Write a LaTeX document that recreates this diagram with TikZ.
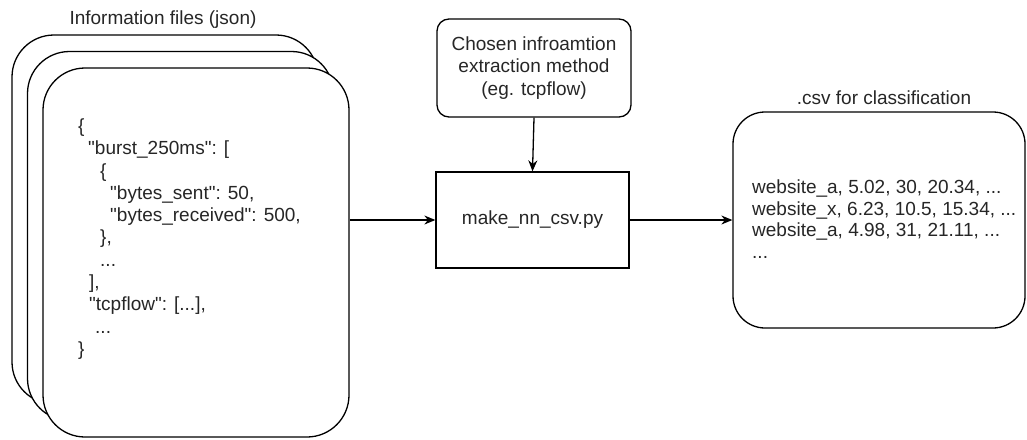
\documentclass[tikz,border=0pt]{standalone}
\usepackage{fontspec}
\setmainfont{Liberation Sans}[Ligatures=TeXOff]
\usetikzlibrary{arrows.meta}
\newcommand{\dq}{\symbol{34}}
\begin{document}
\begin{tikzpicture}[x=1pt,y=-1pt,
  every node/.style={font=\fontsize{19}{22.5}\selectfont, text=black!85},
  filebox/.style={draw, line width=1.3pt, fill=white, rounded corners=42pt, minimum width=306pt, minimum height=369pt, inner sep=0pt},
  procbox/.style={draw, line width=1.3pt, minimum width=193pt, minimum height=96pt, inner sep=0pt},
  methbox/.style={draw, line width=1.3pt, rounded corners=12pt, minimum width=194pt, minimum height=98pt, inner sep=0pt, align=center},
  csvbox/.style={draw, line width=1.3pt, rounded corners=32pt, minimum width=292pt, minimum height=216pt, inner sep=0pt},
  conn/.style={draw, line width=1.3pt, -{Stealth[length=11pt,width=9pt]}},
  lbl/.style={inner sep=0pt}
]
\useasboundingbox (0,0) rectangle (1027,439);

% stacked information files
\node[filebox] (f1) at (165,219.5) {};
\node[filebox] (f2) at (180.5,236) {};
\node[filebox] (f3) at (196,252.5) {};
\node[lbl] (flabel) at (163,20) {Information files (json)};
\node[lbl, anchor=north west, align=left, font=\fontsize{19}{22.3}\selectfont] (json) at (78,118.5)
{\{\\
\hspace*{10pt}\dq burst\_250ms\dq: [\\
\hspace*{22pt}\{\\
\hspace*{32pt}\dq bytes\_sent\dq: 50,\\
\hspace*{32pt}\dq bytes\_received\dq: 500,\\
\hspace*{22pt}\},\\
\hspace*{22pt}...\\
\hspace*{11pt}],\\
\hspace*{11pt}\dq tcpflow\dq: [...],\\
\hspace*{17pt}...\\
\}};

% method box
\node[methbox] (meth) at (534,68) {Chosen infroamtion\\extraction method\\(eg. tcpflow)};

% processing script
\node[procbox] (mk) at (532.5,220) {make\_nn\_csv.py};

% csv output
\node[csvbox] (csv) at (879,220) {};
\node[lbl] (clabel) at (884,98) {.csv for classification};
\node[lbl, anchor=north west, align=left, font=\fontsize{19}{21.5}\selectfont] (csvtext) at (752,180)
{website\_a, 5.02, 30, 20.34, ...\\
website\_x, 6.23, 10.5, 15.34, ...\\
website\_a, 4.98, 31, 21.11, ...\\
...};

% connectors
\draw[conn] (f3.east |- mk.west) -- (mk.west);
\draw[conn] (meth.south) -- (mk.north);
\draw[conn] (mk.east) -- (csv.west);
\end{tikzpicture}
\end{document}
